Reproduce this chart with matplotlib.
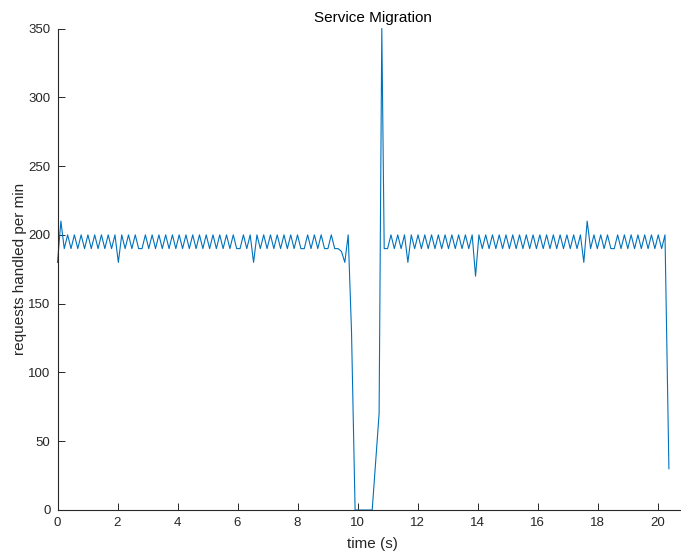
import matplotlib
matplotlib.use("Agg")
import matplotlib.pyplot as plt
import numpy as np

plt.rcParams['font.family'] = ['Liberation Sans', 'DejaVu Sans']

# requests per min, steady period before the migration (t = 0 .. 9.69 s)
before_vals = [180, 210, 190, 200, 190, 200, 190, 200, 190, 200,
               190, 200, 190, 200, 190, 200, 190, 200, 180, 200,
               190, 200, 190, 200, 190, 190, 200, 190, 200, 190,
               200, 190, 200, 190, 200, 190, 200, 190, 200, 190,
               200, 190, 200, 190, 200, 190, 200, 190, 200, 190,
               200, 190, 200, 190, 190, 200, 190, 200, 180, 200,
               190, 200, 190, 200, 190, 200, 190, 200, 190, 200,
               190, 200, 190, 190, 200, 190, 200, 190, 200, 190,
               190, 200, 190, 190, 188, 180, 200]
before_t = np.linspace(0.0, 9.69, len(before_vals))

# the migration itself
mig_t = [9.80, 9.92, 10.49, 10.72, 10.81]
mig_vals = [130, 0, 0, 70, 350]

# steady period after the migration (t = 10.89 .. 20.25 s)
after_vals = [190, 190, 200, 190, 200, 190, 200, 180, 200, 190,
              200, 190, 200, 190, 200, 190, 200, 190, 200, 190,
              200, 190, 200, 190, 200, 190, 200, 170, 200, 190,
              200, 190, 200, 190, 200, 190, 200, 190, 200, 190,
              200, 190, 200, 190, 200, 190, 200, 190, 200, 190,
              200, 190, 200, 190, 200, 190, 200, 190, 200, 180,
              210, 190, 200, 190, 200, 190, 200, 190, 190, 200,
              190, 200, 190, 200, 190, 200, 190, 200, 190, 200,
              190, 200, 190, 200]
after_t = np.linspace(10.89, 20.25, len(after_vals))

end_t = [20.38]
end_vals = [30]

t = np.concatenate([before_t, mig_t, after_t, end_t])
reqs = np.concatenate([before_vals, mig_vals, after_vals, end_vals])

W, H = 681, 554
fig = plt.figure(figsize=(W / 100, H / 100), dpi=100)
ax = fig.add_axes([57.5 / W, 44 / H, 630 / W, 481.5 / H])

ax.plot(t, reqs, color='#0072BD', lw=0.8, clip_on=False)

ax.set_xlim(0, 21)
ax.set_ylim(0, 350)
ax.set_xticks(np.arange(0, 21, 2))
ax.set_yticks(np.arange(0, 351, 50))

axcol = '#262626'
for s in ['top', 'right']:
    ax.spines[s].set_visible(False)
for s in ['left', 'bottom']:
    ax.spines[s].set_color(axcol)
    ax.spines[s].set_linewidth(0.8)
ax.tick_params(direction='in', length=5, width=0.7, colors=axcol,
               labelsize=9.5, pad=5)

ax.set_title("Service Migration", fontsize=11, color='black', pad=5)
ax.set_xlabel("time (s)", fontsize=11, color=axcol, labelpad=6)
ax.set_ylabel("requests handled per min", fontsize=11, color=axcol, labelpad=1)

fig.savefig("out.png", dpi=100)
